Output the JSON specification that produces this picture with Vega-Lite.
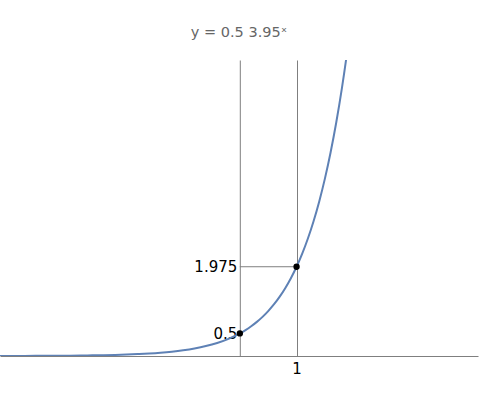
{
  "$schema": "https://vega.github.io/schema/vega-lite/v6.json",
  "autosize": "none",
  "width": 478,
  "height": 296,
  "padding": {"left": 0, "top": 60, "right": 2, "bottom": 44},
  "background": "white",
  "config": {
    "view": {"stroke": null},
    "font": "DejaVu Sans",
    "axis": {"labelFont": "DejaVu Sans", "labelFontSize": 15, "labelColor": "black", "domainColor": "#7f7f7f", "gridColor": "#7f7f7f", "gridOpacity": 1, "tickSize": 0, "title": null}
  },
  "title": {"text": "y = 0.5 3.95ˣ", "font": "DejaVu Sans", "fontSize": 14.5, "fontWeight": "normal", "color": "#666666", "anchor": "middle", "baseline": "alphabetic", "offset": 9},
  "datasets": {
    "curve": [
      {"x": -4.3, "y": 0.00136}, {"x": -4.2, "y": 0.00156}, {"x": -4.0, "y": 0.00205}, {"x": -3.8, "y": 0.0027},
      {"x": -3.6, "y": 0.00356}, {"x": -3.4, "y": 0.00468}, {"x": -3.2, "y": 0.00616}, {"x": -3.0, "y": 0.00811},
      {"x": -2.8, "y": 0.01068}, {"x": -2.6, "y": 0.01405}, {"x": -2.4, "y": 0.0185}, {"x": -2.2, "y": 0.02435},
      {"x": -2.0, "y": 0.03205}, {"x": -1.8, "y": 0.04218}, {"x": -1.6, "y": 0.05552}, {"x": -1.4, "y": 0.07307},
      {"x": -1.2, "y": 0.09617}, {"x": -1.0, "y": 0.12658}, {"x": -0.8, "y": 0.16661}, {"x": -0.6, "y": 0.21929},
      {"x": -0.4, "y": 0.28864}, {"x": -0.2, "y": 0.37989}, {"x": 0.0, "y": 0.5}, {"x": 0.1, "y": 0.57362},
      {"x": 0.2, "y": 0.65809}, {"x": 0.3, "y": 0.75502}, {"x": 0.4, "y": 0.86612}, {"x": 0.5, "y": 0.99373},
      {"x": 0.6, "y": 1.14004}, {"x": 0.7, "y": 1.30792}, {"x": 0.8, "y": 1.5005}, {"x": 0.9, "y": 1.7215},
      {"x": 1.0, "y": 1.975}, {"x": 1.1, "y": 2.26585}, {"x": 1.2, "y": 2.5995}, {"x": 1.3, "y": 2.98225},
      {"x": 1.4, "y": 3.4214}, {"x": 1.5, "y": 3.92523}, {"x": 1.6, "y": 4.50318}, {"x": 1.7, "y": 5.1663},
      {"x": 1.8, "y": 5.927}, {"x": 1.9, "y": 6.80015}, {"x": 2.0, "y": 7.80125}
    ],
    "pts": [{"x": 0, "y": 0.5}, {"x": 1, "y": 1.975}],
    "hline": [{"x": 0, "x2": 1, "y": 1.975}]
  },
  "layer": [
    {
      "data": {"name": "hline"},
      "mark": {"type": "rule", "color": "#7f7f7f", "strokeWidth": 1},
      "encoding": {
        "x": {"field": "x", "type": "quantitative", "scale": {"domain": [-4.23, 4.2], "nice": false, "zero": false},
              "axis": {"values": [1], "format": "d", "grid": true, "labelPadding": 5, "domain": true}},
        "x2": {"field": "x2"},
        "y": {"field": "y", "type": "quantitative", "scale": {"domain": [0, 6.55], "nice": false},
              "axis": {"values": [0.5, 1.975], "labelExpr": "datum.value == 0.5 ? '0.5' : '1.975'", "grid": false, "offset": -239.8, "labelPadding": 3}}
      }
    },
    {
      "data": {"name": "curve"},
      "mark": {"type": "line", "color": "#5E81B5", "strokeWidth": 2, "clip": true, "interpolate": "monotone"},
      "encoding": {
        "x": {"field": "x", "type": "quantitative"},
        "y": {"field": "y", "type": "quantitative"}
      }
    },
    {
      "data": {"name": "pts"},
      "mark": {"type": "point", "filled": true, "color": "black", "opacity": 1, "size": 40},
      "encoding": {
        "x": {"field": "x", "type": "quantitative"},
        "y": {"field": "y", "type": "quantitative"}
      }
    }
  ]
}
